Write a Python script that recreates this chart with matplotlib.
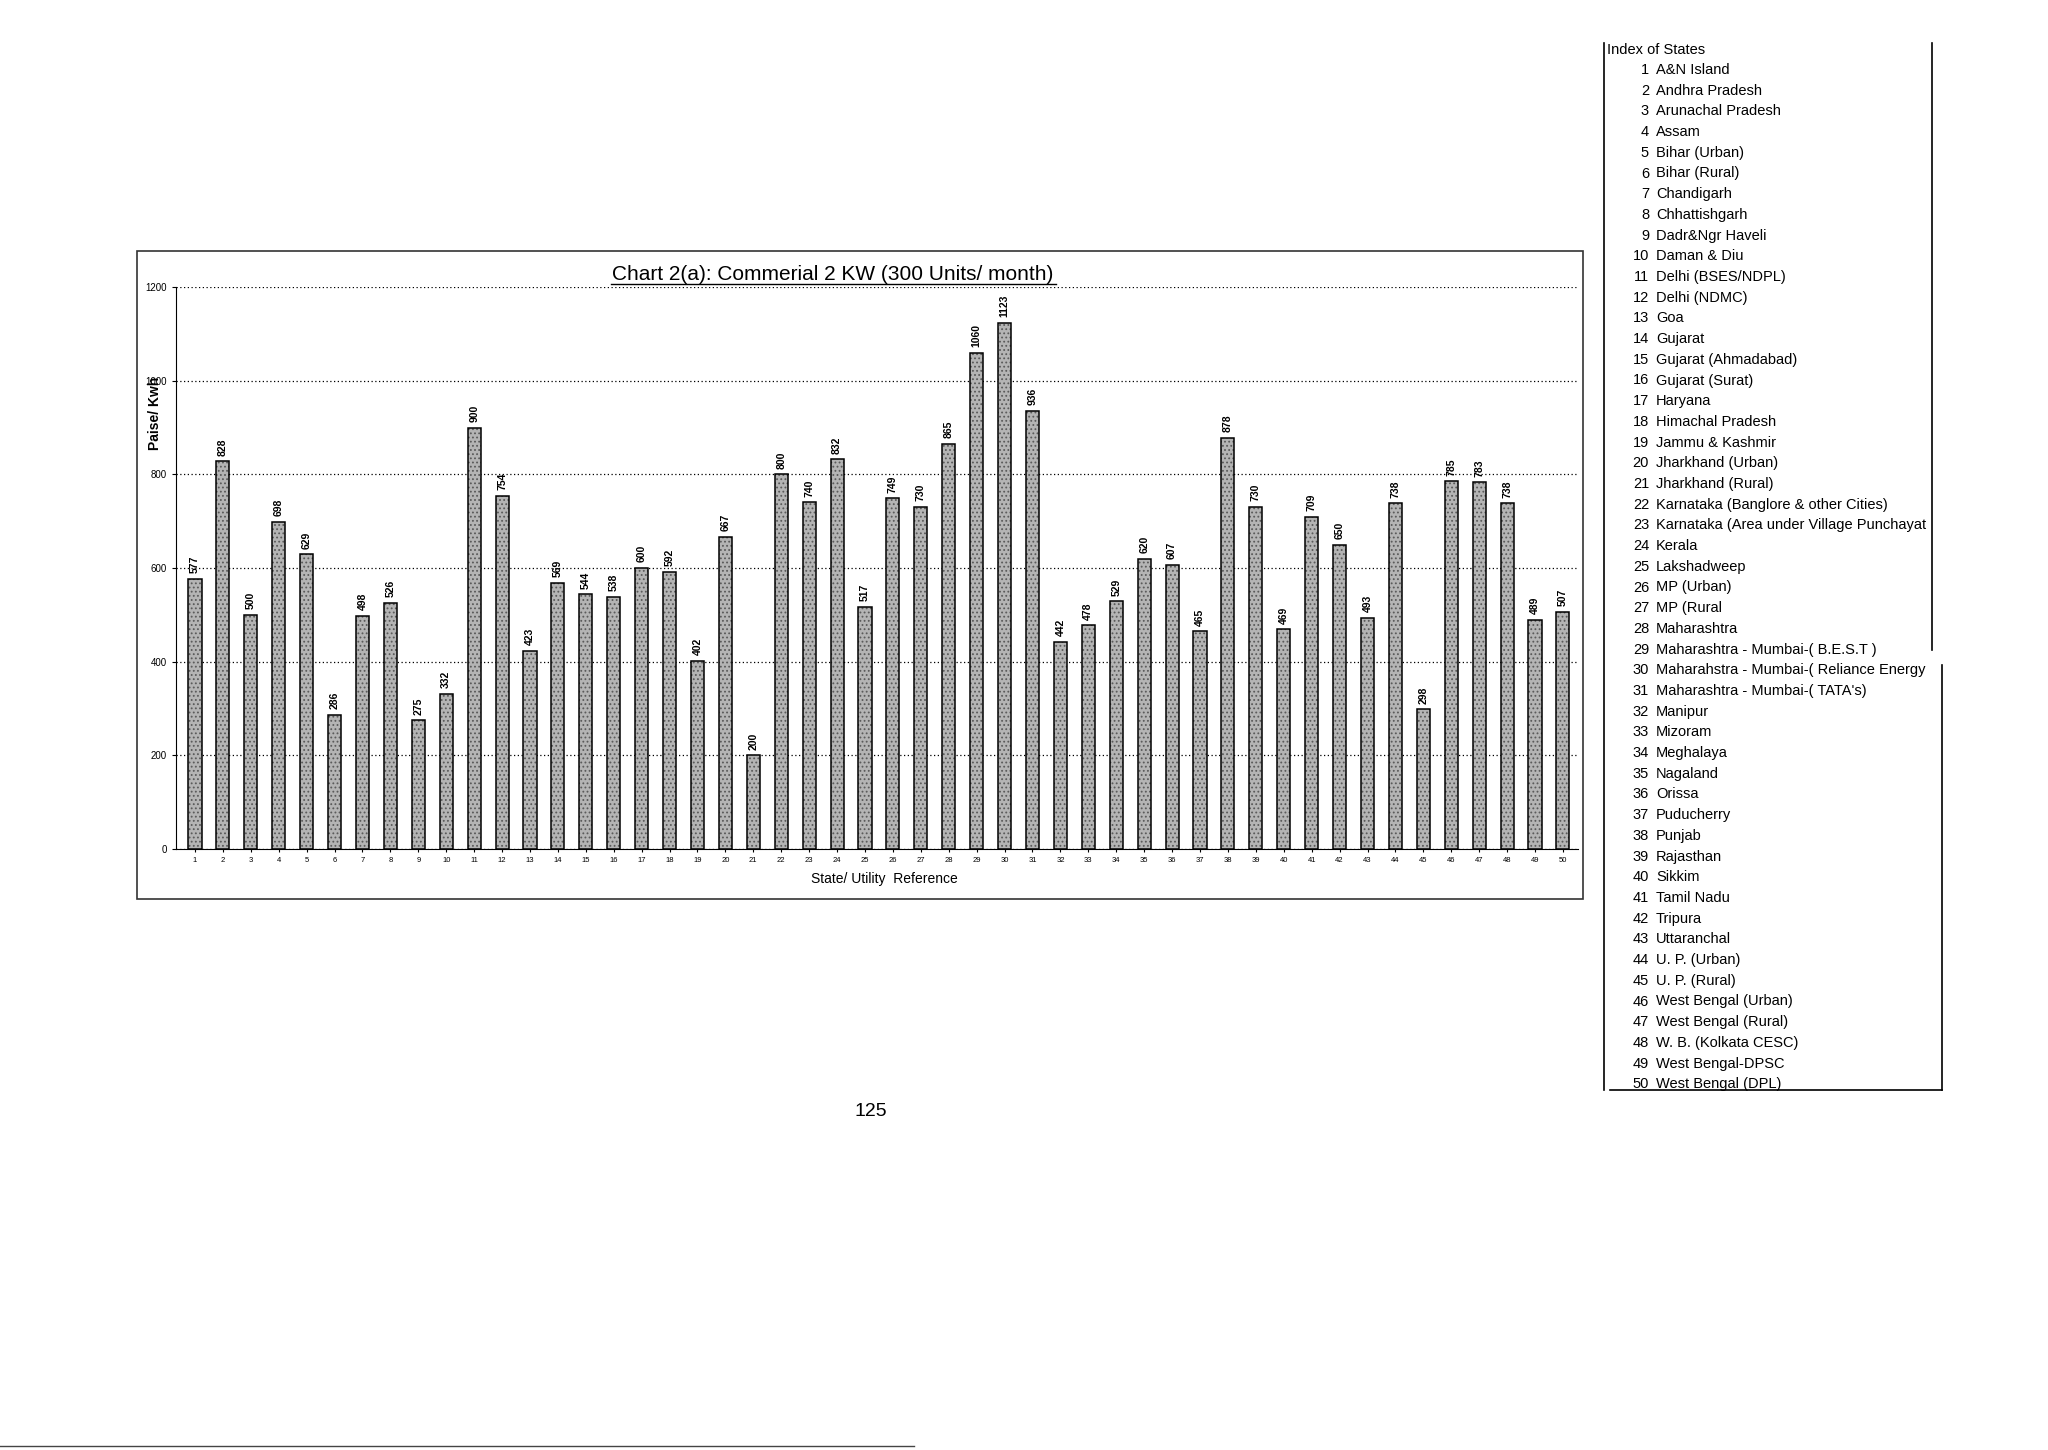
import numpy as np
import matplotlib
matplotlib.use("Agg")
import matplotlib.pyplot as plt
from matplotlib.patches import Rectangle
from matplotlib.lines import Line2D

plt.rcParams['font.family'] = ['Liberation Sans', 'DejaVu Sans']
plt.rcParams['hatch.color'] = '#5a5a5a'
plt.rcParams['hatch.linewidth'] = 0.8

# data
refs = list(range(1, 51))
values = [577, 828, 500, 698, 629, 286, 498, 526, 275, 332,
          900, 754, 423, 569, 544, 538, 600, 592, 402, 667,
          200, 800, 740, 832, 517, 749, 730, 865, 1060, 1123,
          936, 442, 478, 529, 620, 607, 465, 878, 730, 469,
          709, 650, 493, 738, 298, 785, 783, 738, 489, 507]
states = ["A&N Island", "Andhra Pradesh", "Arunachal Pradesh", "Assam",
          "Bihar (Urban)", "Bihar (Rural)", "Chandigarh", "Chhattishgarh",
          "Dadr&Ngr Haveli", "Daman & Diu", "Delhi (BSES/NDPL)", "Delhi (NDMC)",
          "Goa", "Gujarat", "Gujarat (Ahmadabad)", "Gujarat (Surat)", "Haryana",
          "Himachal Pradesh", "Jammu & Kashmir", "Jharkhand (Urban)",
          "Jharkhand (Rural)", "Karnataka (Banglore & other Cities)",
          "Karnataka (Area under Village Punchayat", "Kerala", "Lakshadweep",
          "MP (Urban)", "MP (Rural", "Maharashtra",
          "Maharashtra - Mumbai-( B.E.S.T )",
          "Maharahstra - Mumbai-( Reliance Energy",
          "Maharashtra - Mumbai-( TATA's)", "Manipur", "Mizoram", "Meghalaya",
          "Nagaland", "Orissa", "Puducherry", "Punjab", "Rajasthan", "Sikkim",
          "Tamil Nadu", "Tripura", "Uttaranchal", "U. P. (Urban)",
          "U. P. (Rural)", "West Bengal (Urban)", "West Bengal (Rural)",
          "W. B. (Kolkata CESC)", "West Bengal-DPSC", "West Bengal (DPL)"]
yticks = [0, 200, 400, 600, 800, 1000, 1200]

W, H = 2048, 1450
fig = plt.figure(figsize=(W / 100, H / 100), dpi=100)

# chart frame
fig.patches.append(Rectangle((137 / W, 1 - 899 / H), (1583 - 137) / W, (899 - 251) / H,
                             transform=fig.transFigure, fill=False, lw=1.2, ec='#333333'))

ax = fig.add_axes([176 / W, 1 - 849 / H, (1578 - 176) / W, (849 - 287) / H])
# stippled grey fill, then black outline on top
ax.bar(refs, values, width=0.47, color='#b4b4b4', edgecolor='#5a5a5a', linewidth=0,
       hatch='....', zorder=3)
ax.bar(refs, values, width=0.47, fill=False, edgecolor='black', linewidth=1.1, zorder=4)
for x, v in zip(refs, values):
    ax.text(x, v + 12, str(v), rotation=90, ha='center', va='bottom',
            fontsize=7.5, fontweight='bold')

ax.set_ylim(0, 1200)
ax.set_xlim(0.32, 50.54)
ax.set_yticks(yticks)
ax.set_xticks(refs)
ax.tick_params(axis='y', labelsize=7, length=3)
ax.tick_params(axis='x', labelsize=5.5, length=2)
ax.yaxis.grid(True, linestyle=(0, (1, 2)), color='black', linewidth=0.9, zorder=0)
for s in ['top', 'right']:
    ax.spines[s].set_visible(False)

fig.text(833 / W, 1 - 275 / H, "Chart 2(a): Commerial 2 KW (300 Units/ month)",
         ha='center', va='center', fontsize=15)
fig.add_artist(Line2D([611 / W, 1056 / W], [1 - 284 / H, 1 - 284 / H],
                      color='black', lw=1))
fig.text(155 / W, 1 - 413 / H, "Paise/ Kwh", rotation=90, ha='center', va='center',
         fontsize=10, fontweight='bold')
fig.text(884 / W, 1 - 879 / H, "State/ Utility  Reference", ha='center', va='center',
         fontsize=10)

# index of states box
fig.add_artist(Line2D([1604 / W, 1604 / W], [1 - 43 / H, 1 - 1090 / H], color='black', lw=1.2))
fig.add_artist(Line2D([1932 / W, 1932 / W], [1 - 43 / H, 1 - 650 / H], color='black', lw=1.2))
fig.add_artist(Line2D([1942 / W, 1942 / W], [1 - 665 / H, 1 - 1090 / H], color='black', lw=1.2))
fig.add_artist(Line2D([1610 / W, 1942 / W], [1 - 1090 / H, 1 - 1090 / H], color='black', lw=1.2))
fig.text(1607 / W, 1 - 50 / H, "Index of States", ha='left', va='center', fontsize=10.5)
for i, name in enumerate(states):
    y = 1 - (70 + i * 20.7) / H
    fig.text(1649 / W, y, str(i + 1), ha='right', va='center', fontsize=10.5)
    fig.text(1656 / W, y, name, ha='left', va='center', fontsize=10.5)

fig.text(871 / W, 1 - 1111 / H, "125", ha='center', va='center', fontsize=14)
fig.add_artist(Line2D([0, 914 / W], [1 - 1446 / H, 1 - 1446 / H], color='#444444', lw=1))

fig.savefig("out.png", dpi=100, facecolor='white')
